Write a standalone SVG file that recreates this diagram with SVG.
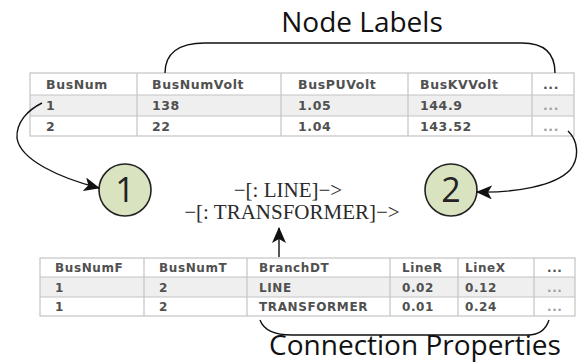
<svg xmlns="http://www.w3.org/2000/svg" width="579" height="364" viewBox="0 0 579 364">
  <style>
    .grid { fill: none; stroke: #c4c4c4; stroke-width: 1.2; }
    .cell { font-family: "DejaVu Sans", "Liberation Sans", sans-serif; font-weight: bold; fill: #505050; letter-spacing: 0.6px; }
    .top { font-size: 12.5px; }
    .bottom { font-size: 12px; }
    .more { fill: #a0a0a0; }
    .big { font-family: "Open Sans", "Liberation Sans", sans-serif; font-size: 28px; fill: #111; text-anchor: middle; }
    .rel { font-family: "Liberation Serif", "DejaVu Serif", serif; font-size: 21px; fill: #2a2a2a; text-anchor: middle; }
    .node circle { fill: #d9e3bf; stroke: #222; stroke-width: 1.6; }
    .node text { font-family: "Open Sans", "Liberation Sans", sans-serif; font-size: 34px; fill: #222; text-anchor: middle; }
    .wire { fill: none; stroke: #111; stroke-width: 1.4; }
  </style>
  <defs>
    <marker id="head" viewBox="0 0 16 14" refX="15" refY="7" markerWidth="16" markerHeight="14" markerUnits="userSpaceOnUse" orient="auto">
      <path d="M0,0 L16,7 L0,14 L4,7 Z" fill="#111"/>
    </marker>
  </defs>
  <rect width="579" height="364" fill="#fff"/>

  <!-- bus table -->
  <g id="bus-table">
    <rect x="30" y="95" width="544" height="21" fill="#efefef"/>
    <rect class="grid" x="30" y="73" width="544" height="63"/>
    <path class="grid" d="M30,95 H574 M30,116 H574 M137,73 V136 M281,73 V136 M408,73 V136 M532,73 V136"/>
    <g class="cell top">
      <text x="46" y="89">BusNum</text>
      <text x="152" y="89">BusNumVolt</text>
      <text x="298" y="89">BusPUVolt</text>
      <text x="420" y="89">BusKVVolt</text>
      <text x="543" y="89">...</text>
      <text x="46" y="110">1</text>
      <text x="152" y="110">138</text>
      <text x="298" y="110">1.05</text>
      <text x="420" y="110">144.9</text>
      <text class="more" x="543" y="110">...</text>
      <text x="46" y="131">2</text>
      <text x="152" y="131">22</text>
      <text x="298" y="131">1.04</text>
      <text x="420" y="131">143.52</text>
      <text class="more" x="543" y="131">...</text>
    </g>
  </g>

  <!-- node labels brace -->
  <g id="node-labels">
    <path class="wire" d="M165,73 C165,54 178,43 205,43 H522 C545,43 555,54 555,73"/>
    <text class="big" x="362" y="32">Node Labels</text>
  </g>

  <!-- graph nodes -->
  <g id="node-1" class="node">
    <circle cx="125" cy="190" r="26"/>
    <text x="125" y="202">1</text>
  </g>
  <g id="node-2" class="node">
    <circle cx="451" cy="190" r="26"/>
    <text x="451" y="202">2</text>
  </g>

  <!-- relationship types -->
  <g id="relationships" class="rel">
    <text x="288" y="197">−[: LINE]−&gt;</text>
    <text x="292" y="219">−[: TRANSFORMER]−&gt;</text>
  </g>

  <!-- branch table -->
  <g id="branch-table">
    <rect x="40" y="277" width="535" height="20" fill="#efefef"/>
    <rect class="grid" x="40" y="258" width="535" height="58"/>
    <path class="grid" d="M40,277 H575 M40,297 H575 M144,258 V316 M247,258 V316 M390,258 V316 M458,258 V316 M534,258 V316"/>
    <g class="cell bottom">
      <text x="55" y="272">BusNumF</text>
      <text x="159" y="272">BusNumT</text>
      <text x="259" y="272">BranchDT</text>
      <text x="402" y="272">LineR</text>
      <text x="465" y="272">LineX</text>
      <text x="547" y="272">...</text>
      <text x="55" y="292">1</text>
      <text x="159" y="292">2</text>
      <text x="259" y="292">LINE</text>
      <text x="402" y="292">0.02</text>
      <text x="465" y="292">0.12</text>
      <text class="more" x="547" y="292">...</text>
      <text x="55" y="311">1</text>
      <text x="159" y="311">2</text>
      <text x="259" y="311">TRANSFORMER</text>
      <text x="402" y="311">0.01</text>
      <text x="465" y="311">0.24</text>
      <text class="more" x="547" y="311">...</text>
    </g>
  </g>

  <!-- connection properties brace -->
  <g id="connection-properties">
    <path class="wire" d="M260,320 C264,331 275,335 292,335 H528 C540,335 546,329 549,320"/>
    <text class="big" x="415" y="355">Connection Properties</text>
  </g>

  <!-- connectors -->
  <g id="connectors">
    <path class="wire" marker-end="url(#head)" d="M42,103 C28,110 16,122 17,138 C20,160 60,178 99,188"/>
    <path class="wire" marker-end="url(#head)" d="M568,131 C578,140 580,158 570,170 C555,186 515,193 477,192"/>
    <path class="wire" marker-end="url(#head)" d="M279,257 V228"/>
  </g>
</svg>
